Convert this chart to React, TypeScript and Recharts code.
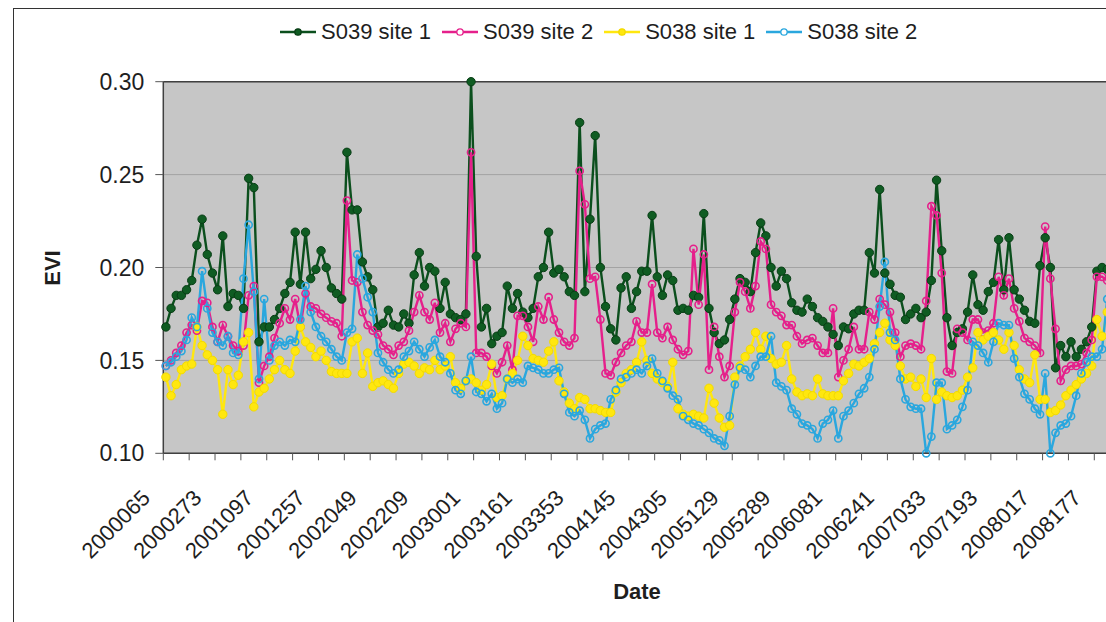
import React from 'react';
import { LineChart, Line, XAxis, YAxis, CartesianGrid, Legend, ReferenceLine, Label } from 'recharts';

// 16-day MODIS composite dates (category axis)
const DATES = [
  '2000065','2000081','2000097','2000113','2000129','2000145','2000161','2000177','2000193','2000257',
  '2000273','2000289','2000305','2000353','2001001','2001017','2001033','2001049','2001065','2001081',
  '2001097','2001113','2001129','2001145','2001161','2001177','2001193','2001209','2001225','2001241',
  '2001257','2001273','2001289','2001305','2001321','2001337','2001353','2002001','2002017','2002033',
  '2002049','2002065','2002081','2002097','2002113','2002129','2002145','2002161','2002177','2002193',
  '2002209','2002225','2002241','2002257','2002273','2002289','2002305','2002321','2002337','2002353',
  '2003001','2003017','2003033','2003049','2003065','2003081','2003097','2003113','2003129','2003145',
  '2003161','2003177','2003193','2003241','2003257','2003273','2003289','2003305','2003321','2003337',
  '2003353','2004001','2004017','2004033','2004049','2004065','2004081','2004097','2004113','2004129',
  '2004145','2004161','2004177','2004193','2004209','2004225','2004241','2004257','2004273','2004289',
  '2004305','2004321','2005001','2005017','2005033','2005049','2005065','2005081','2005097','2005113',
  '2005129','2005145','2005161','2005177','2005193','2005209','2005225','2005241','2005257','2005273',
  '2005289','2005305','2005321','2005337','2005353','2006001','2006017','2006033','2006049','2006065',
  '2006081','2006097','2006113','2006129','2006145','2006161','2006177','2006193','2006209','2006225',
  '2006241','2006257','2006273','2006289','2006305','2006321','2006337','2006353','2007001','2007017',
  '2007033','2007049','2007065','2007081','2007097','2007113','2007129','2007145','2007161','2007177',
  '2007193','2007209','2007225','2007241','2007257','2007273','2007289','2007305','2007321','2008001',
  '2008017','2008033','2008049','2008065','2008081','2008097','2008113','2008129','2008145','2008161',
  '2008177','2008193','2008209',
];

const S039_SITE1 = [
  0.168,0.178,0.185,0.185,0.188,0.193,0.212,0.226,0.207,0.197,
  0.188,0.217,0.179,0.186,0.185,0.178,0.248,0.243,0.160,0.168,
  0.168,0.172,0.178,0.186,0.192,0.219,0.191,0.219,0.194,0.199,
  0.209,0.200,0.189,0.186,0.183,0.262,0.231,0.231,0.203,0.195,
  0.188,0.168,0.170,0.177,0.169,0.168,0.175,0.170,0.196,0.208,
  0.190,0.200,0.198,0.178,0.192,0.175,0.173,0.172,0.175,0.300,
  0.206,0.168,0.178,0.159,0.163,0.165,0.190,0.178,0.186,0.176,
  0.173,0.178,0.195,0.200,0.219,0.197,0.199,0.195,0.187,0.185,
  0.278,0.187,0.226,0.271,0.200,0.179,0.167,0.161,0.189,0.195,
  0.178,0.187,0.198,0.198,0.228,0.195,0.185,0.196,0.193,0.177,
  0.178,0.177,0.185,0.184,0.229,0.178,0.165,0.159,0.161,0.172,
  0.183,0.194,0.192,0.187,0.208,0.224,0.217,0.200,0.190,0.198,
  0.194,0.181,0.177,0.176,0.183,0.179,0.173,0.171,0.168,0.164,
  0.158,0.168,0.167,0.175,0.177,0.177,0.208,0.197,0.242,0.197,
  0.191,0.185,0.184,0.172,0.175,0.178,0.173,0.176,0.193,0.247,
  0.209,0.173,0.158,0.165,0.167,0.176,0.196,0.180,0.177,0.187,
  0.192,0.215,0.188,0.216,0.188,0.183,0.177,0.171,0.170,0.201,
  0.216,0.200,0.146,0.158,0.152,0.160,0.152,0.156,0.160,0.168,
  0.198,0.200,0.199,
];

const S039_SITE2 = [
  0.147,0.150,0.154,0.158,0.165,0.169,0.166,0.182,0.181,0.168,
  0.160,0.169,0.163,0.158,0.155,0.158,0.185,0.190,0.138,0.147,
  0.152,0.162,0.170,0.178,0.172,0.183,0.168,0.186,0.179,0.178,
  0.175,0.173,0.171,0.170,0.163,0.236,0.193,0.192,0.176,0.169,
  0.166,0.164,0.158,0.156,0.153,0.158,0.160,0.166,0.176,0.185,
  0.176,0.172,0.181,0.165,0.170,0.160,0.167,0.170,0.168,0.262,
  0.154,0.154,0.152,0.147,0.143,0.149,0.158,0.145,0.174,0.174,
  0.168,0.160,0.179,0.172,0.184,0.172,0.165,0.160,0.158,0.162,
  0.252,0.234,0.194,0.195,0.172,0.143,0.142,0.149,0.154,0.158,
  0.160,0.171,0.165,0.165,0.191,0.165,0.162,0.168,0.161,0.156,
  0.153,0.155,0.210,0.180,0.207,0.145,0.168,0.152,0.141,0.147,
  0.176,0.192,0.187,0.178,0.190,0.214,0.210,0.180,0.176,0.174,
  0.169,0.169,0.163,0.159,0.161,0.162,0.158,0.154,0.154,0.178,
  0.141,0.150,0.156,0.168,0.156,0.156,0.176,0.172,0.183,0.180,
  0.176,0.165,0.152,0.158,0.159,0.158,0.156,0.182,0.233,0.228,
  0.197,0.144,0.143,0.167,0.165,0.161,0.172,0.172,0.165,0.166,
  0.170,0.195,0.185,0.194,0.178,0.171,0.162,0.160,0.158,0.154,
  0.222,0.194,0.167,0.139,0.145,0.147,0.147,0.148,0.154,0.161,
  0.195,0.195,0.193,
];

const S038_SITE1 = [
  0.141,0.131,0.137,0.145,0.147,0.148,0.168,0.158,0.153,0.150,
  0.145,0.121,0.145,0.137,0.142,0.160,0.165,0.125,0.133,0.135,
  0.140,0.145,0.150,0.145,0.143,0.155,0.168,0.160,0.157,0.152,
  0.155,0.150,0.144,0.143,0.143,0.143,0.160,0.162,0.143,0.154,
  0.136,0.138,0.139,0.137,0.135,0.143,0.148,0.149,0.147,0.143,
  0.146,0.145,0.150,0.145,0.147,0.152,0.138,0.135,0.139,0.140,
  0.138,0.134,0.137,0.148,0.130,0.131,0.140,0.143,0.150,0.163,
  0.158,0.151,0.150,0.149,0.155,0.160,0.139,0.133,0.127,0.124,
  0.130,0.129,0.124,0.124,0.123,0.122,0.122,0.133,0.138,0.143,
  0.145,0.149,0.160,0.150,0.143,0.140,0.138,0.136,0.149,0.124,
  0.121,0.120,0.121,0.120,0.119,0.135,0.127,0.119,0.114,0.115,
  0.141,0.147,0.152,0.156,0.165,0.156,0.163,0.151,0.148,0.149,
  0.158,0.140,0.133,0.131,0.132,0.131,0.140,0.132,0.131,0.131,
  0.131,0.139,0.143,0.148,0.147,0.149,0.151,0.159,0.165,0.170,
  0.161,0.158,0.147,0.140,0.141,0.136,0.140,0.130,0.151,0.129,
  0.133,0.131,0.130,0.131,0.134,0.141,0.146,0.165,0.161,0.163,
  0.165,0.161,0.156,0.165,0.158,0.145,0.140,0.138,0.153,0.129,
  0.129,0.122,0.123,0.126,0.131,0.134,0.137,0.140,0.143,0.147,
  0.172,0.163,0.176,
];

const S038_SITE2 = [
  0.147,0.149,0.152,0.155,0.161,0.173,0.168,0.198,0.178,0.165,
  0.160,0.158,0.163,0.154,0.153,0.194,0.223,0.187,0.140,0.183,
  0.150,0.158,0.160,0.158,0.161,0.160,0.172,0.190,0.176,0.168,
  0.163,0.160,0.156,0.152,0.150,0.165,0.167,0.207,0.194,0.184,
  0.176,0.154,0.149,0.145,0.143,0.145,0.152,0.155,0.160,0.156,
  0.152,0.157,0.161,0.152,0.149,0.143,0.134,0.132,0.139,0.152,
  0.133,0.132,0.128,0.132,0.124,0.127,0.140,0.138,0.140,0.138,
  0.147,0.146,0.145,0.143,0.143,0.145,0.146,0.132,0.122,0.120,
  0.123,0.118,0.108,0.113,0.115,0.116,0.129,0.134,0.140,0.141,
  0.143,0.145,0.143,0.147,0.151,0.143,0.139,0.135,0.131,0.129,
  0.120,0.118,0.116,0.115,0.113,0.111,0.108,0.107,0.104,0.120,
  0.137,0.146,0.145,0.141,0.147,0.152,0.152,0.163,0.138,0.136,
  0.134,0.124,0.121,0.116,0.115,0.113,0.108,0.116,0.118,0.123,
  0.108,0.120,0.123,0.127,0.132,0.135,0.141,0.156,0.179,0.203,
  0.165,0.161,0.140,0.129,0.125,0.124,0.124,0.100,0.109,0.138,
  0.138,0.113,0.115,0.118,0.125,0.134,0.160,0.158,0.154,0.149,
  0.160,0.170,0.169,0.169,0.151,0.141,0.132,0.129,0.124,0.121,
  0.143,0.100,0.111,0.115,0.116,0.120,0.131,0.143,0.149,0.152,
  0.152,0.156,0.183,
];

const Y_TICKS = [0.1, 0.15, 0.2, 0.25, 0.3];

const SERIES = [
  { key: 's039a', name: 'S039 site 1', values: S039_SITE1, color: '#0b4f1d', dotFill: '#0f5c22', dotStroke: '#083d15', hollow: false },
  { key: 's039b', name: 'S039 site 2', values: S039_SITE2, color: '#e5208b', dotFill: 'none', dotStroke: '#e5208b', hollow: true },
  { key: 's038a', name: 'S038 site 1', values: S038_SITE1, color: '#ffe70f', dotFill: '#ffe70f', dotStroke: '#f2da00', hollow: false },
  { key: 's038b', name: 'S038 site 2', values: S038_SITE2, color: '#2aa7de', dotFill: 'none', dotStroke: '#2aa7de', hollow: true },
];

const rows = DATES.map((d, i) => {
  const r: Record<string, number | string> = { pos: i + 0.5, date: d };
  SERIES.forEach((s) => { r[s.key] = s.values[i]; });
  return r;
});

const X_TICKS = DATES.map((_, i) => i).filter((i) => i % 5 === 0);

const FONT = '"Liberation Sans", Arial, Helvetica, sans-serif';

function DateTick(props: any) {
  const { x, y, payload } = props;
  const i = payload.value as number;
  if (i % 10 !== 0) return <g />;
  const ax = x - 12;
  const ay = y + 39;
  return (
    <text x={ax} y={ay} transform={`rotate(-45 ${ax} ${ay})`} textAnchor="end" fontSize={22} fontFamily={FONT} fill="#1e1e1e">
      {DATES[i]}
    </text>
  );
}

function LegendContent() {
  return (
    <div style={{ display: 'flex', alignItems: 'center', fontFamily: FONT, fontSize: 22, color: '#1e1e1e', lineHeight: '26px', whiteSpace: 'nowrap' }}>
      {SERIES.map((s) => (
        <div key={s.key} style={{ display: 'flex', alignItems: 'center', marginRight: 11 }}>
          <svg width={36} height={14} style={{ marginRight: 5 }}>
            <line x1={0} y1={7} x2={36} y2={7} stroke={s.color} strokeWidth={2.5} />
            <circle cx={18} cy={7} r={3.2} fill={s.hollow ? '#ffffff' : s.dotFill} stroke={s.dotStroke} strokeWidth={1.3} />
          </svg>
          <span>{s.name}</span>
        </div>
      ))}
    </div>
  );
}

export default function App() {
  return (
    <div style={{ position: 'fixed', left: 0, top: 0, width: 1106, height: 622, overflow: 'hidden', background: '#ffffff' }}>
      <div style={{ position: 'absolute', left: 13, top: 8, width: 1300, height: 800, border: '1.5px solid #333333', boxSizing: 'border-box' }} />
      <div style={{ position: 'absolute', left: 0, top: 0 }}>
        <LineChart width={1120} height={622} data={rows} margin={{ top: 81.7, right: 5, bottom: 68.7, left: 63.3 }}>
          <CartesianGrid horizontal vertical={false} fill="#c6c6c6" stroke="#a3a3a3" strokeWidth={1} />
          <XAxis
            type="number"
            dataKey="pos"
            domain={[0, 184]}
            ticks={X_TICKS}
            interval={0}
            tick={<DateTick />}
            tickSize={7}
            tickMargin={0}
            tickLine={{ stroke: '#555555' }}
            axisLine={{ stroke: '#404040', strokeWidth: 1.5 }}
            height={100}
          >
            <Label
              content={() => (
                <text x={637} y={599} textAnchor="middle" fontSize={22} fontWeight="bold" fontFamily={FONT} fill="#1e1e1e">
                  Date
                </text>
              )}
            />
          </XAxis>
          <YAxis
            type="number"
            domain={[0.1, 0.3]}
            ticks={Y_TICKS}
            interval={0}
            width={100}
            tickFormatter={(v: number) => v.toFixed(2)}
            tick={{ fontSize: 23, fontFamily: FONT, fill: '#1e1e1e' }}
            tickSize={8}
            tickMargin={11}
            tickLine={{ stroke: '#555555' }}
            axisLine={{ stroke: '#404040', strokeWidth: 1.5 }}
          >
            <Label
              content={() => (
                <text x={60} y={268} transform="rotate(-90 60 268)" textAnchor="middle" fontSize={22} fontWeight="bold" fontFamily={FONT} fill="#1e1e1e">
                  EVI
                </text>
              )}
            />
          </YAxis>
          <ReferenceLine y={0.3} stroke="#404040" strokeWidth={1.5} />
          <Legend
            layout="horizontal"
            verticalAlign="middle"
            align="center"
            content={<LegendContent />}
            wrapperStyle={{ top: 19, left: 280, width: 760, height: 26 }}
          />
          {SERIES.map((s) => (
            <Line
              key={s.key}
              type="linear"
              dataKey={s.key}
              name={s.name}
              stroke={s.color}
              strokeWidth={2.4}
              dot={{ r: s.hollow ? 3.6 : 4.2, fill: s.dotFill, stroke: s.dotStroke, strokeWidth: s.hollow ? 1.6 : 1 }}
              activeDot={false}
              isAnimationActive={false}
            />
          ))}
        </LineChart>
      </div>
    </div>
  );
}
